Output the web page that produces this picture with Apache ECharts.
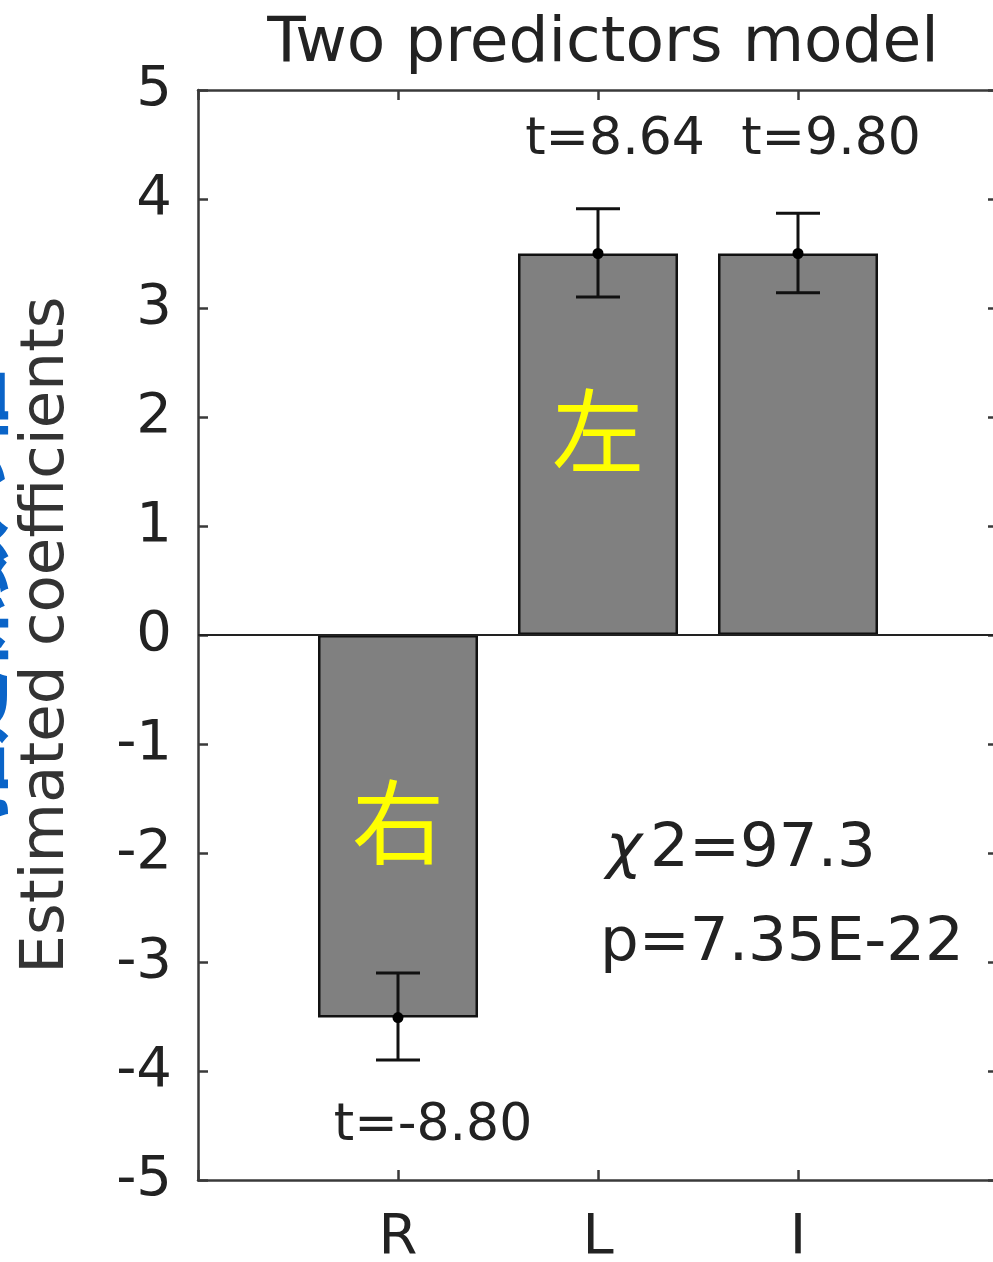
<!DOCTYPE html>
<html>
<head>
<meta charset="utf-8">
<script src="https://cdn.jsdelivr.net/npm/echarts@6/dist/echarts.min.js"></script>
<style>
html,body{margin:0;padding:0;background:#fff;}
#chart{width:993px;height:1262px;}
</style>
</head>
<body>
<div id="chart"></div>
<script>
// ---- data ----
const categories = ['R', 'L', 'I'];
const xPositions = [1, 2, 3];
const coefficients = [-3.51, 3.50, 3.50];
const errLow = [-3.90, 3.10, 3.14];
const errHigh = [-3.10, 3.91, 3.87];
const tLabels = ['t=-8.80', 't=8.64', 't=9.80'];
const tLabelX = [1.175, 2.085, 3.165];
const tLabelY = [-4.51, 4.54, 4.54];
const barKanji = ['右', '左', ''];
const kanjiY = [-1.72, 1.87, 0];
const statLines = ['{chi|\u03c7}2=97.3', 'p=7.35E-22'];
const statX = [2.04, 2.01];
const statY = [-1.97, -2.84];
const yTicks = [-5, -4, -3, -2, -1, 0, 1, 2, 3, 4, 5];

const labelMap = {};
xPositions.forEach((x, i) => labelMap[x] = categories[i]);

const chart = echarts.init(document.getElementById('chart'));
const axisColor = '#3a3a3a';
const font = 'DejaVu Sans';

const option = {
  backgroundColor: '#ffffff',
  animation: false,
  title: {
    text: 'Two predictors model',
    left: 598, top: 8, textAlign: 'center',
    textStyle: {fontFamily: font, fontSize: 63, fontWeight: 'normal', color: '#222'}
  },
  grid: {left: 198, right: -5, top: 90, bottom: 82, containLabel: false, outerBoundsMode: 'none'},
  xAxis: [{
    type: 'value', min: 0, max: 4, interval: 1, position: 'bottom',
    splitLine: {show: false},
    axisLine: {show: true, onZero: false, lineStyle: {color: axisColor, width: 2.5}},
    axisTick: {show: true, inside: true, length: 10, lineStyle: {color: axisColor, width: 2.5}},
    axisLabel: {margin: 30, formatter: v => labelMap[v] || '', fontFamily: font, fontSize: 56, color: '#222'}
  }, {
    type: 'value', min: 0, max: 4, interval: 1, position: 'top',
    splitLine: {show: false},
    axisLine: {show: true, onZero: false, lineStyle: {color: axisColor, width: 2.5}},
    axisTick: {show: true, inside: true, length: 10, lineStyle: {color: axisColor, width: 2.5}},
    axisLabel: {show: false}
  }],
  yAxis: [{
    type: 'value', min: -5, max: 5, interval: 1, position: 'left',
    splitLine: {show: false},
    axisLine: {show: true, onZero: false, lineStyle: {color: axisColor, width: 2.5}},
    axisTick: {show: true, inside: true, length: 10, lineStyle: {color: axisColor, width: 2.5}},
    axisLabel: {margin: 26, fontFamily: font, fontSize: 56, color: '#222',
      formatter: v => yTicks.includes(v) ? String(v) : ''}
  }, {
    type: 'value', min: -5, max: 5, interval: 1, position: 'right',
    splitLine: {show: false},
    axisLine: {show: true, onZero: false, lineStyle: {color: axisColor, width: 2.5}},
    axisTick: {show: true, inside: true, length: 10, lineStyle: {color: axisColor, width: 2.5}},
    axisLabel: {show: false}
  }],
  graphic: [{
    type: 'text', x: 47, y: 635, rotation: Math.PI / 2,
    style: {text: 'Estimated coefficients', fontFamily: font, fontSize: 61, fill: '#333',
      textAlign: 'center', textVerticalAlign: 'middle'}
  }, {
    type: 'text', x: -28, y: 595, rotation: Math.PI / 2,
    style: {text: '推定係数の値', fontFamily: 'Noto Sans CJK JP', fontWeight: 'bold', fontSize: 75, fill: '#0a64c8',
      textAlign: 'center', textVerticalAlign: 'middle'}
  }],
  series: [{
    type: 'bar',
    barWidth: 160,
    data: xPositions.map((x, i) => [x, coefficients[i]]),
    itemStyle: {color: '#808080', borderColor: '#111', borderWidth: 2.5},
    markLine: {
      silent: true, symbol: 'none', label: {show: false},
      lineStyle: {color: '#222', width: 2, type: 'solid'},
      data: [{yAxis: 0}]
    },
    z: 2
  }, {
    type: 'custom',
    data: xPositions.map((x, i) => [x, errLow[i], errHigh[i], coefficients[i]]),
    renderItem: (params, api) => {
      const x = api.value(0);
      const lo = api.coord([x, api.value(1)]);
      const hi = api.coord([x, api.value(2)]);
      const mid = api.coord([x, api.value(3)]);
      const cap = 22;
      const st = {stroke: '#111', lineWidth: 3};
      return {type: 'group', children: [
        {type: 'line', shape: {x1: lo[0], y1: lo[1], x2: hi[0], y2: hi[1]}, style: st},
        {type: 'line', shape: {x1: lo[0] - cap, y1: lo[1], x2: lo[0] + cap, y2: lo[1]}, style: st},
        {type: 'line', shape: {x1: hi[0] - cap, y1: hi[1], x2: hi[0] + cap, y2: hi[1]}, style: st},
        {type: 'circle', shape: {cx: mid[0], cy: mid[1], r: 5.5}, style: {fill: '#000'}}
      ]};
    },
    z: 5
  }, {
    type: 'custom',
    data: tLabels.map((t, i) => [tLabelX[i], tLabelY[i]]),
    renderItem: (params, api) => {
      const p = api.coord([api.value(0), api.value(1)]);
      return {type: 'text', x: p[0], y: p[1], style: {
        text: tLabels[params.dataIndex], fontFamily: font, fontSize: 52, fill: '#222',
        textAlign: 'center', textVerticalAlign: 'middle'}};
    },
    z: 6
  }, {
    type: 'custom',
    data: xPositions.map((x, i) => [x, kanjiY[i]]),
    renderItem: (params, api) => {
      const p = api.coord([api.value(0), api.value(1)]);
      return {type: 'text', x: p[0], y: p[1], style: {
        text: barKanji[params.dataIndex], fontFamily: 'Noto Sans CJK JP', fontSize: 92, fill: '#ffff00',
        textAlign: 'center', textVerticalAlign: 'middle'}};
    },
    z: 6
  }, {
    type: 'custom',
    data: statLines.map((s, i) => [statX[i], statY[i]]),
    renderItem: (params, api) => {
      const p = api.coord([api.value(0), api.value(1)]);
      return {type: 'text', x: p[0], y: p[1], style: {
        text: statLines[params.dataIndex], fontFamily: font, fontSize: 61, fill: '#222',
        textAlign: 'left', textVerticalAlign: 'middle',
        rich: {chi: {fontFamily: font, fontSize: 61, fontStyle: 'italic', fill: '#222', padding: [0, 8, 0, 0]}}}};
    },
    z: 6
  }]
};
chart.setOption(option);
</script>
</body>
</html>
